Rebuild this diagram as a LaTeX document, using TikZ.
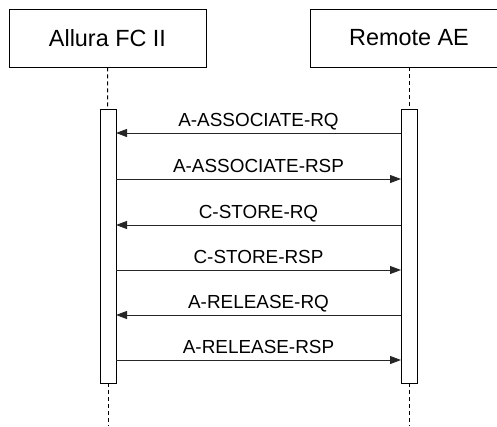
\documentclass[tikz,border=0pt]{standalone}
\usepackage{fontspec}
\setmainfont{Liberation Sans}
\usetikzlibrary{arrows.meta}

\begin{document}
\begin{tikzpicture}[line width=0.9pt,
    lifeline/.style={dash pattern=on 4pt off 3pt},
    message/.style={-{Triangle[length=11pt,width=8pt]}, draw=black!85},
    msglabel/.style={anchor=base, font=\fontsize{18.9}{22}\selectfont}]
            % pixel grid, y runs downwards
            \tikzset{x=1pt, y=-1pt}
            \useasboundingbox (0,0) rectangle (497,426);
            \clip (0,0) rectangle (497,426);

            \begin{scope}[every node/.style={draw, fill=white, inner sep=0pt,
                    minimum width=197pt, minimum height=58pt,
                    font=\fontsize{23.4}{28}\selectfont}]

                \node (allura) at (107.5,38) {Allura FC II};
                \node (remote) at (409,38) {Remote AE};

            \end{scope}
            \begin{scope}[every node/.style={draw, fill=white, inner sep=0pt,
                    minimum width=16pt, minimum height=274pt}]

                \node (actl) at (108,246) {};
                \node (actr) at (409,246) {};

            \end{scope}
            \coordinate (endl) at (108,426);
            \coordinate (endr) at (409,426);

            \draw[lifeline] (allura) -- (actl);
            \draw[lifeline] (actl) -- (endl);
            \draw[lifeline] (remote) -- (actr);
            \draw[lifeline] (actr) -- (endr);

            \foreach \y [count=\i] in {133,179,225,270,315,360} {
                \coordinate (l\i) at (116,\y);
                \coordinate (r\i) at (401,\y);
            }

            \draw[message] (r1) -- node[msglabel, yshift=7pt] {A-ASSOCIATE-RQ} (l1);
            \draw[message] (l2) -- node[msglabel, yshift=7pt] {A-ASSOCIATE-RSP} (r2);
            \draw[message] (r3) -- node[msglabel, yshift=7pt] {C-STORE-RQ} (l3);
            \draw[message] (l4) -- node[msglabel, yshift=7pt] {C-STORE-RSP} (r4);
            \draw[message] (r5) -- node[msglabel, yshift=7pt] {A-RELEASE-RQ} (l5);
            \draw[message] (l6) -- node[msglabel, yshift=7pt] {A-RELEASE-RSP} (r6);
        \end{tikzpicture}
\end{document}
